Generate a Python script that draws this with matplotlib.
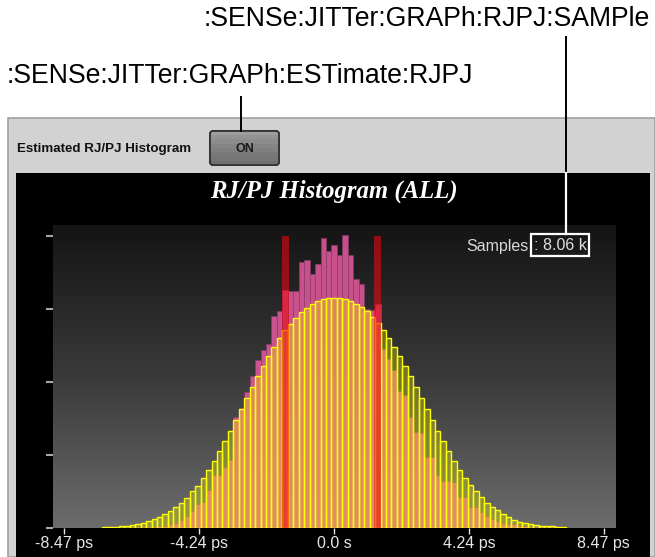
import numpy as np
import matplotlib
matplotlib.use("Agg")
import matplotlib.pyplot as plt
from matplotlib.patches import Rectangle, FancyBboxPatch
from matplotlib.colors import LinearSegmentedColormap

plt.rcParams["font.family"] = ["Liberation Sans", "DejaVu Sans"]

# ---------------- data ----------------
BIN_WIDTH_PS = 0.1712
bin_index = np.arange(-42, 43)

estimated_counts = [
    1.1, 1.1, 1.1, 3.0, 3.0, 4.4, 5.8, 7.1, 9.9, 12.1,
    15.3, 19.5, 23.6, 28.5, 34.5, 41.4, 50.0, 57.8, 68.8, 80.1,
    91.1, 104.8, 118.9, 132.6, 148.2, 163.3, 178.4, 193.8, 207.9, 222.2,
    235.3, 247.7, 260.3, 271.1, 279.7, 287.7, 295.2, 301.8, 306.6, 311.2,
    313.4, 314.8,
    314.8,
    314.8, 313.4, 311.2, 306.6, 302.1, 297.0, 288.6, 280.7, 271.5, 260.1,
    248.4, 235.3, 222.3, 207.9, 193.8, 178.4, 163.3, 148.2, 132.9, 119.0,
    105.1, 92.2, 80.1, 68.8, 59.3, 50.0, 41.8, 34.5, 29.0, 24.0,
    19.5, 14.8, 11.2, 7.9, 6.6, 5.2, 4.4, 3.4, 2.5, 2.5,
    1.6, 1.6,
]

measured_counts = [
    0, 0, 0, 0, 0.5, 0.5, 0.7, 1.4, 1.6, 2.0,
    2.7, 3.4, 4.8, 6.2, 11.2, 15.8, 23, 32.2, 35.3, 52.3,
    72, 72, 83.3, 92.5, 151.8, 163.7, 186, 208, 229.5, 243.2,
    252.3, 291, 296.6, 326.3, 324.4, 324.4, 365, 366.4, 347.3, 362,
    397, 379,
    387,
    373.3, 401.4, 374.2, 340.4, 334.5, 300.3, 298, 306.2, 245.5, 231.8,
    215.8, 188, 181.5, 152.7, 131.2, 129.5, 97, 97, 72, 65,
    65, 62.7, 42.2, 42, 28.5, 28.5, 21.6, 17, 12.6, 10,
    7.5, 6, 5, 3.4, 2.7, 2, 2, 1.4, 0.7, 0.7,
    0, 0,
]

pj_positions_ps = [-1.53, 1.35]
pj_counts = [400, 400]

xtick_values = [-8.47, -4.24, 0.0, 4.24, 8.47]
xtick_labels = ["-8.47 ps", "-4.24 ps", "0.0 s", "4.24 ps", "8.47 ps"]
ytick_values = [0, 100, 200, 300, 400]

title_text = "RJ/PJ Histogram (ALL)"
panel_label = "Estimated RJ/PJ Histogram"
button_text = "ON"
samples_label = "Samples"
samples_value = ": 8.06 k"
cmd_sample = ":SENSe:JITTer:GRAPh:RJPJ:SAMPle"
cmd_estimate = ":SENSe:JITTer:GRAPh:ESTimate:RJPJ"

# ---------------- figure ----------------
W, H = 655, 557
fig = plt.figure(figsize=(W / 100, H / 100), dpi=100)
fig.patch.set_facecolor("white")

# background (pixel coordinate) layer
bg = fig.add_axes([0, 0, 1, 1], zorder=0)
bg.set_xlim(0, W)
bg.set_ylim(H, 0)
bg.axis("off")

bg.add_patch(Rectangle((8, 118), W - 8, H - 118, facecolor="#d2d2d2",
                       edgecolor="#a0a0a0", lw=1.2))
bg.add_patch(Rectangle((16, 173), 634, H - 173, facecolor="black", edgecolor="none"))
bg.text(17, 149, panel_label, fontsize=9.6, fontweight="bold", color="#111111",
        ha="left", va="center")

btn = FancyBboxPatch((210, 131), 69, 34, boxstyle="round,pad=0,rounding_size=3",
                     facecolor="#8c8c8c", edgecolor="#333333", lw=1.3)
bg.add_patch(btn)
grad_btn = np.array([0.62, 0.58, 0.55, 0.52, 0.50, 0.48, 0.46, 0.44]).reshape(-1, 1)
im_btn = bg.imshow(grad_btn, cmap="gray", vmin=0, vmax=1, extent=(210, 279, 165, 131),
                   aspect="auto", zorder=2)
im_btn.set_clip_path(btn)
bg.add_patch(FancyBboxPatch((210, 131), 69, 34, boxstyle="round,pad=0,rounding_size=3",
                            facecolor="none", edgecolor="#333333", lw=1.3, zorder=3))
bg.text(244.5, 148.5, button_text, fontsize=9, fontweight="bold", color="#1a1a1a",
        ha="center", va="center", zorder=4)

bg.text(333.5, 191, title_text, fontsize=17.8, color="white", fontweight="bold",
        fontstyle="italic", family=["Liberation Serif", "DejaVu Serif"],
        ha="center", va="center")

# ---------------- plot axes ----------------
left_px, right_px, top_px, bot_px = 52.7, 615, 225, 528
ax = fig.add_axes([left_px / W, (H - bot_px) / H, (right_px - left_px) / W,
                   (bot_px - top_px) / H], zorder=1)
xmin, xmax = -8.84, 8.82
ymax = 415
ax.set_xlim(xmin, xmax)
ax.set_ylim(0, ymax)

cmap_bg = LinearSegmentedColormap.from_list("bg", ["#6c6c6c", "#3a3a3a", "#141414"])
ax.imshow(np.linspace(0, 1, 256).reshape(-1, 1), cmap=cmap_bg, origin="lower",
          extent=(xmin, xmax, 0, ymax), aspect="auto", zorder=0)

centers = bin_index * BIN_WIDTH_PS
ax.bar(centers, measured_counts, width=BIN_WIDTH_PS, color="#e65a9f", alpha=0.85,
       edgecolor="#8a3a70", linewidth=0.5, zorder=2)
ax.bar(centers, estimated_counts, width=BIN_WIDTH_PS, facecolor=(1, 1, 0, 0.3),
       edgecolor="#ffff00", linewidth=1.0, zorder=3)
ax.bar(pj_positions_ps, pj_counts, width=0.22, color=(0.92, 0.03, 0.06, 0.58),
       edgecolor="none", zorder=4)

ax.set_xticks(xtick_values)
ax.set_xticklabels(xtick_labels)
ax.set_yticks(ytick_values)
ax.tick_params(axis="x", colors="#e6e6e6", length=4, width=1, labelsize=11.5, pad=2)
ax.tick_params(axis="y", colors="#a8a8a8", length=5, width=1.5, labelleft=False)
for s in ax.spines.values():
    s.set_visible(False)

# ---------------- overlay annotations ----------------
ov = fig.add_axes([0, 0, 1, 1], zorder=5)
ov.set_xlim(0, W)
ov.set_ylim(H, 0)
ov.axis("off")
ov.patch.set_alpha(0)

ov.text(529, 246, samples_label, fontsize=11.5, color="#d8d8d8", ha="right", va="center")
ov.text(534, 245.5, samples_value, fontsize=11.5, color="#e0e0e0", ha="left", va="center")
ov.add_patch(Rectangle((531, 234), 58, 21.5, fill=False, edgecolor="white", lw=1.6))

ov.plot([565.5, 565.5], [37, 173], color="black", lw=1.4)
ov.plot([565.5, 565.5], [173, 234], color="white", lw=1.6)
ov.plot([241, 241], [97, 131], color="black", lw=1.4)

ov.text(204, 19, cmd_sample, fontsize=19.2, color="black", ha="left", va="center")
ov.text(7, 76, cmd_estimate, fontsize=19.2, color="black", ha="left", va="center")

fig.savefig("out.png", dpi=100)
